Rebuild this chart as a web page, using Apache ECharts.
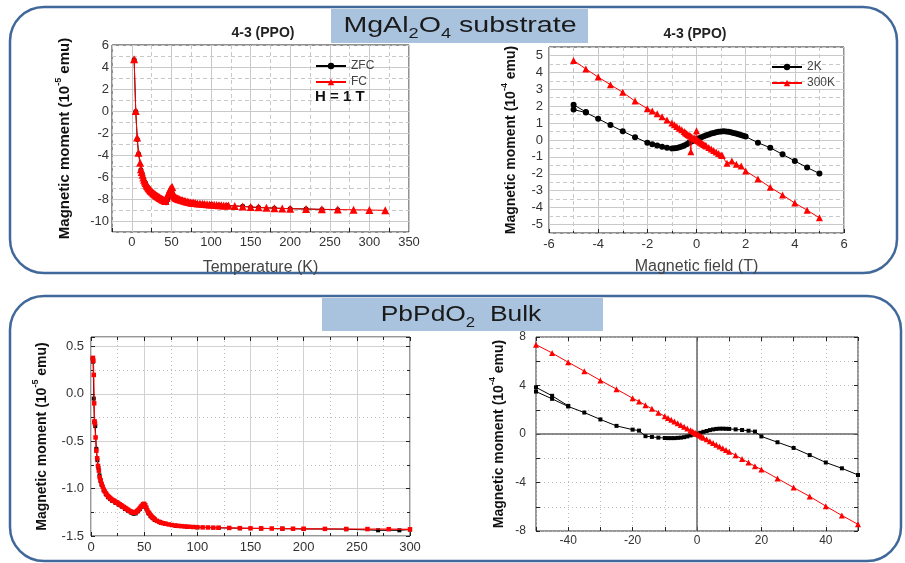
<!DOCTYPE html>
<html><head><meta charset="utf-8">
<script src="https://cdn.jsdelivr.net/npm/echarts@6/dist/echarts.min.js"></script>
<style>html,body{margin:0;padding:0;background:#fff}#c{width:905px;height:563px}</style>
</head><body><div id="c"></div>
<script>
const FONT = '"Liberation Sans", Arial, sans-serif';

// ---- Top-left: MgAl2O4 substrate, M (1e-5 emu) vs T (K), H = 1 T
const tlFC = [[2.9,4.7],[5,0.0],[6.7,-2.4],[8.4,-3.8],[10.5,-4.7],[11.5,-5.3],[12.5,-5.55],[13.5,-5.8],[14.5,-6.05],[15.5,-6.25],[16.5,-6.4],[17.5,-6.55],[18.5,-6.7],[19.5,-6.82],[20.5,-6.93],[21.5,-7.03],[22.5,-7.12],[23.5,-7.2],[24.5,-7.28],[25.5,-7.35],[26.5,-7.42],[27.5,-7.48],[28.5,-7.54],[29.5,-7.6],[30.5,-7.65],[31.5,-7.7],[32.5,-7.75],[33.5,-7.8],[34.5,-7.85],[35.5,-7.9],[36.5,-7.94],[37.5,-7.98],[38.5,-8.02],[39.5,-8.06],[40.5,-8.1],[41.5,-8.14],[42.5,-8.18],[44,-7.9],[45.5,-7.6],[47,-7.35],[48.5,-7.1],[50,-6.95],[51,-6.9],[52,-7.45],[53,-7.68],[54,-7.78],[55,-7.85],[56,-7.9],[57,-7.93],[58,-7.96],[59,-7.99],[60,-8.02],[62,-8.07],[64,-8.12],[66,-8.17],[68,-8.21],[70,-8.25],[72,-8.28],[74,-8.31],[76,-8.33],[78,-8.35],[80,-8.37],[83,-8.4],[86,-8.42],[89,-8.44],[92,-8.46],[95,-8.48],[98,-8.5],[101,-8.51],[104,-8.53],[107,-8.54],[110,-8.56],[113,-8.57],[116,-8.58],[119,-8.59],[122,-8.6],[130,-8.63],[140,-8.68],[150,-8.72],[160,-8.76],[170,-8.8],[180,-8.83],[190,-8.86],[200,-8.88],[220,-8.91],[240,-8.94],[260,-8.96],[280,-8.98],[300,-9.0],[320,-9.03]];
const tlZFC = [[3,4.65],[5,-0.05],[7,-2.6],[8.6,-3.9],[11.5,-5.35],[13,-5.7],[15,-6.15],[17,-6.5],[19,-6.8],[21,-7.0],[24,-7.25],[27,-7.45],[30,-7.62],[33,-7.76],[36,-7.9],[39,-8.05],[42,-8.3],[43.5,-8.35],[45,-8.0],[47,-7.75],[49,-7.55],[51,-7.5],[53,-7.75],[55,-7.86],[58,-7.95],[62,-8.06],[66,-8.16],[70,-8.24],[75,-8.31],[80,-8.36],[90,-8.45],[100,-8.5],[110,-8.55],[120,-8.59],[140,-8.67],[150,-8.74],[160,-8.78],[180,-8.83],[200,-8.88],[220,-8.91],[240,-8.95],[260,-8.97]];
const tlXTicks = [0,50,100,150,200,250,300,350];
const tlYTicks = [-10,-8,-6,-4,-2,0,2,4,6];

// ---- Top-right: MgAl2O4 substrate, M (1e-4 emu) vs H (T)
const tr2K = [[-4.5,1.66],[-5,2.08],[-5,1.8],[-4.5,1.62],[-4,1.26],[-3.5,0.88],[-3,0.52],[-2.5,0.17],[-2,-0.16],[-1.8,-0.25],[-1.6,-0.33],[-1.4,-0.4],[-1.2,-0.46],[-1.0,-0.5],[-0.9,-0.49],[-0.8,-0.47],[-0.7,-0.43],[-0.6,-0.38],[-0.5,-0.32],[-0.4,-0.25],[-0.3,-0.17],[-0.2,-0.09],[-0.1,-0.02],[0,0.04],[0.1,0.1],[0.2,0.16],[0.3,0.22],[0.4,0.28],[0.5,0.33],[0.6,0.38],[0.7,0.42],[0.8,0.46],[0.9,0.49],[1.0,0.51],[1.1,0.52],[1.2,0.51],[1.3,0.49],[1.4,0.46],[1.5,0.42],[1.6,0.38],[1.7,0.34],[1.8,0.3],[1.9,0.25],[2.0,0.2],[2.5,-0.16],[3,-0.46],[3.5,-0.85],[4,-1.24],[4.5,-1.63],[5,-1.98]];
const tr300K = [[-5,4.7],[-4.5,4.2],[-4,3.72],[-3.5,3.27],[-3,2.82],[-2.5,2.3],[-2,1.85],[-1.8,1.72],[-1.6,1.55],[-1.4,1.37],[-1.2,1.18],[-1.0,1.0],[-0.9,0.9],[-0.8,0.8],[-0.7,0.7],[-0.6,0.6],[-0.5,0.5],[-0.45,0.43],[-0.4,0.38],[-0.35,0.33],[-0.3,0.28],[-0.25,0.23],[-0.23,-0.7],[-0.2,0.18],[-0.15,0.14],[-0.1,0.1],[-0.05,0.05],[0,0.55],[0.02,0.0],[0.05,-0.03],[0.1,-0.08],[0.15,-0.13],[0.2,-0.18],[0.25,-0.22],[0.3,-0.27],[0.35,-0.31],[0.4,-0.36],[0.5,-0.45],[0.6,-0.53],[0.7,-0.62],[0.8,-0.71],[0.9,-0.8],[1.0,-0.88],[1.05,-0.92],[1.24,-1.38],[1.44,-1.24],[1.62,-1.44],[1.82,-1.54],[2,-1.83],[2.5,-2.3],[3,-2.8],[3.5,-3.25],[4,-3.73],[4.5,-4.15],[5,-4.6]];
const trXTicks = [-6,-4,-2,0,2,4,6];
const trYTicks = [-5,-4,-3,-2,-1,0,1,2,3,4,5];

// ---- Bottom-left: PbPdO2 bulk, M (1e-5 emu) vs T (K)
const blFC = [[1.8,0.38],[2.2,0.35],[2.6,0.2],[3.0,-0.1],[3.3,-0.29],[3.7,-0.31],[4.3,-0.46],[5,-0.6],[5.8,-0.68],[6.6,-0.76],[7.4,-0.81],[8.2,-0.88],[9,-0.91],[10,-0.95],[11,-0.98],[12,-1.01],[13,-1.03],[14,-1.05],[15,-1.065],[16,-1.08],[17,-1.09],[18,-1.1],[19,-1.11],[20,-1.12],[21,-1.125],[22,-1.13],[23,-1.14],[24,-1.145],[25,-1.15],[26,-1.16],[27,-1.165],[28,-1.175],[29,-1.18],[30,-1.19],[31,-1.195],[32,-1.205],[33,-1.21],[34,-1.22],[35,-1.225],[36,-1.235],[37,-1.24],[38,-1.245],[39,-1.25],[40,-1.255],[41,-1.255],[42,-1.25],[43,-1.24],[44,-1.23],[45,-1.22],[46,-1.205],[47,-1.19],[48,-1.18],[49,-1.165],[50,-1.16],[51,-1.175],[52,-1.2],[53,-1.23],[54,-1.25],[55,-1.265],[56,-1.28],[57,-1.295],[58,-1.305],[59,-1.315],[60,-1.325],[62,-1.34],[64,-1.35],[66,-1.36],[68,-1.365],[70,-1.37],[73,-1.378],[76,-1.384],[79,-1.389],[82,-1.393],[85,-1.396],[88,-1.399],[92,-1.402],[96,-1.405],[100,-1.407],[105,-1.409],[110,-1.41],[115,-1.412],[120,-1.413],[130,-1.415],[140,-1.417],[150,-1.419],[160,-1.42],[170,-1.421],[180,-1.422],[190,-1.423],[200,-1.424],[220,-1.425],[240,-1.426],[260,-1.427],[280,-1.428],[300,-1.43]];
const blZFC = [[1.6,0.37],[2.0,0.34],[2.6,-0.05],[3.2,-0.3],[4,-0.34],[5,-0.58],[6,-0.7],[7,-0.78],[8,-0.86],[9,-0.92],[10,-0.96],[12,-1.02],[14,-1.06],[16,-1.09],[18,-1.11],[20,-1.13],[23,-1.15],[26,-1.17],[29,-1.19],[32,-1.215],[35,-1.235],[38,-1.255],[40,-1.265],[42,-1.262],[44,-1.24],[46,-1.215],[48,-1.19],[50,-1.17],[52,-1.21],[54,-1.26],[56,-1.29],[58,-1.31],[60,-1.33],[65,-1.355],[70,-1.372],[80,-1.392],[90,-1.402],[100,-1.408],[120,-1.414],[140,-1.418],[160,-1.421],[180,-1.423],[200,-1.425],[240,-1.428],[270,-1.44],[290,-1.44],[300,-1.432]];

// ---- Bottom-right: PbPdO2 bulk, M (1e-4 emu) vs H
const brLow = [[-40,2.32],[-45,3.15],[-50,3.85],[-50,3.5],[-45,2.9],[-40,2.27],[-35,1.77],[-30,1.2],[-25,0.67],[-20,0.36],[-18,0.28],[-16,-0.18],[-14,-0.24],[-12,-0.3],[-10,-0.33],[-9,-0.34],[-8,-0.34],[-7,-0.34],[-6,-0.32],[-5,-0.3],[-4,-0.26],[-3,-0.2],[-2,-0.12],[-1,-0.05],[0,0.02],[1,0.1],[2,0.18],[3,0.25],[4,0.32],[5,0.38],[6,0.42],[7,0.44],[8,0.44],[9,0.43],[10,0.42],[12,0.38],[14,0.33],[16,0.27],[18,0.2],[20,-0.2],[25,-0.68],[30,-1.15],[35,-1.74],[40,-2.35],[45,-2.83],[50,-3.38]];
const brHigh = [[-50,7.37],[-45,6.68],[-40,5.92],[-35,5.18],[-30,4.42],[-25,3.7],[-20,2.95],[-18,2.68],[-16,2.38],[-14,2.08],[-12,1.76],[-10,1.46],[-9,1.32],[-8,1.18],[-7,1.03],[-6,0.88],[-5,0.74],[-4,0.6],[-3,0.45],[-2,0.3],[-1.5,0.22],[-1,0.15],[-0.5,0.08],[0,0.0],[0.5,-0.07],[1,-0.15],[1.5,-0.22],[2,-0.3],[3,-0.44],[4,-0.59],[5,-0.74],[6,-0.88],[7,-1.03],[8,-1.18],[9,-1.32],[10,-1.46],[12,-1.76],[14,-2.06],[16,-2.36],[18,-2.66],[20,-2.93],[25,-3.67],[30,-4.42],[35,-5.15],[40,-5.95],[45,-6.72],[50,-7.45]];

const chart = echarts.init(document.getElementById('c'), null, {renderer: 'canvas'});

const labelStyle = (size, margin, fmt) => ({fontSize: size, color: '#333', fontFamily: FONT, margin: margin, formatter: fmt});
const yName = (exp) => '{a|Magnetic moment (10}{s|' + exp + '}{a| emu)}';
const yNameStyle = (size) => ({fontFamily: FONT, color: '#111', rich: {
  a: {fontSize: size, fontWeight: 'bold', fontFamily: FONT, color: '#111', lineHeight: 22},
  s: {fontSize: 9, fontWeight: 'bold', fontFamily: FONT, color: '#111', lineHeight: 10, verticalAlign: 'top'}
}});
const noLine = {show: false, onZero: false};
const gridSolid = {color: '#c9c9c9', type: 'solid', width: 1};
const gridDash = {color: '#c9c9c9', type: [4, 3], width: 1};
const gridDot = {color: '#bdbdbd', type: [1, 3], width: 1};
const tickIn = {show: true, inside: true, length: 4, lineStyle: {color: '#222'}};
const has = (arr) => (v) => arr.some(t => Math.abs(t - v) < 1e-9) ? String(v) : '';

const option = {
  animation: false,
  backgroundColor: '#fff',
  grid: [
    {left: 112, top: 45, width: 297, height: 187, show: true, borderColor: '#222', borderWidth: 1, backgroundColor: 'transparent'},
    {left: 549, top: 47, width: 295, height: 186, show: true, borderColor: '#222', borderWidth: 1, backgroundColor: 'transparent'},
    {left: 91, top: 337, width: 319, height: 199, show: true, borderColor: '#333', borderWidth: 1, backgroundColor: 'transparent'},
    {left: 536, top: 337, width: 322, height: 194, show: true, borderColor: '#333', borderWidth: 1, backgroundColor: 'transparent'}
  ],
  legend: [
    {data: ['ZFC', 'FC'], orient: 'vertical', left: 310, top: 55, itemWidth: 30, itemHeight: 8, itemGap: 4,
     textStyle: {fontSize: 12, color: '#444', fontFamily: FONT}},
    {data: ['2K', '300K'], orient: 'vertical', left: 766, top: 56, itemWidth: 30, itemHeight: 8, itemGap: 4,
     textStyle: {fontSize: 12, color: '#444', fontFamily: FONT}}
  ],
  xAxis: [
    {gridIndex: 0, type: 'value', min: -25, max: 350, interval: 25,
     axisLine: noLine, axisTick: tickIn,
     axisLabel: labelStyle(13, 4, has(tlXTicks)),
     splitLine: {show: true, lineStyle: gridDash},
     name: 'Temperature (K)', nameLocation: 'middle', nameGap: 28,
     nameTextStyle: {fontSize: 16, color: '#444', fontFamily: FONT}},
    {gridIndex: 1, type: 'value', min: -6, max: 6, interval: 2,
     axisLine: noLine, axisTick: tickIn, minorTick: {show: true, splitNumber: 2, length: 2, lineStyle: {color: '#222'}},
     axisLabel: labelStyle(13, 5, has(trXTicks)),
     splitLine: {show: true, lineStyle: gridSolid},
     minorSplitLine: {show: true, lineStyle: gridDash},
     name: 'Magnetic field (T)', nameLocation: 'middle', nameGap: 26,
     nameTextStyle: {fontSize: 16, color: '#444', fontFamily: FONT}},
    {gridIndex: 2, type: 'value', min: 0, max: 300, interval: 50,
     axisLine: noLine, axisTick: tickIn, minorTick: {show: true, splitNumber: 2, length: 3, lineStyle: {color: '#222'}},
     axisLabel: labelStyle(13, 5),
     splitLine: {show: true, lineStyle: {color: '#d2d2d2', width: 1}},
     minorSplitLine: {show: true, lineStyle: gridDot}},
    {gridIndex: 3, type: 'value', min: -50, max: 50, interval: 10,
     axisLine: noLine, axisTick: tickIn,
     axisLabel: labelStyle(12, 4, has([-40, -20, 0, 20, 40])),
     splitLine: {show: true, lineStyle: gridDot}},
    {gridIndex: 2, type: 'value', position: 'top', min: 0, max: 300, interval: 50,
     axisLine: noLine, axisTick: tickIn, minorTick: {show: true, splitNumber: 2, length: 3, lineStyle: {color: '#222'}},
     axisLabel: {show: false}, splitLine: {show: false}},
    {gridIndex: 3, type: 'value', position: 'top', min: -50, max: 50, interval: 10,
     axisLine: noLine, axisTick: tickIn, axisLabel: {show: false}, splitLine: {show: false}}
  ],
  yAxis: [
    {gridIndex: 0, type: 'value', min: -11, max: 6, interval: 1,
     axisLine: noLine, axisTick: {show: false},
     axisLabel: labelStyle(13, 3, has(tlYTicks)),
     splitLine: {show: true, lineStyle: gridDash},
     name: yName('-5'), nameLocation: 'middle', nameRotate: 90, nameGap: 36, nameTextStyle: yNameStyle(15)},
    {gridIndex: 1, type: 'value', min: -5.5, max: 5.5, interval: 0.5,
     axisLine: noLine, axisTick: {show: false},
     axisLabel: labelStyle(13, 6, has(trYTicks)),
     splitLine: {show: true, lineStyle: gridDash},
     name: yName('-4'), nameLocation: 'middle', nameRotate: 90, nameGap: 27, nameTextStyle: yNameStyle(14)},
    {gridIndex: 2, type: 'value', min: -1.5, max: 0.6, interval: 0.5,
     axisLine: noLine, axisTick: tickIn, minorTick: {show: true, splitNumber: 2, length: 3, lineStyle: {color: '#222'}},
     axisLabel: labelStyle(13, 7, (v) => Math.abs(v * 2 - Math.round(v * 2)) < 1e-9 ? v.toFixed(1) : ''),
     splitLine: {show: true, lineStyle: {color: '#d2d2d2', width: 1}},
     minorSplitLine: {show: true, lineStyle: gridDot},
     name: yName('-5'), nameLocation: 'middle', nameRotate: 90, nameGap: 38, nameTextStyle: yNameStyle(14)},
    {gridIndex: 3, type: 'value', min: -8, max: 8, interval: 2,
     axisLine: noLine, axisTick: tickIn,
     axisLabel: labelStyle(12, 10, has([-8, -4, 0, 4, 8])),
     splitLine: {show: true, lineStyle: gridDot},
     name: yName('-4'), nameLocation: 'middle', nameRotate: 90, nameGap: 26, nameTextStyle: yNameStyle(14)},
    {gridIndex: 2, type: 'value', position: 'right', min: -1.5, max: 0.6, interval: 0.5,
     axisLine: noLine, axisTick: tickIn, minorTick: {show: true, splitNumber: 2, length: 3, lineStyle: {color: '#222'}},
     axisLabel: {show: false}, splitLine: {show: false}},
    {gridIndex: 3, type: 'value', position: 'right', min: -8, max: 8, interval: 2,
     axisLine: noLine, axisTick: tickIn, axisLabel: {show: false}, splitLine: {show: false}}
  ],
  series: [
    {type: 'line', name: 'gridTL', xAxisIndex: 0, yAxisIndex: 0, data: [], silent: true,
     markLine: {silent: true, z: 1, symbol: 'none', label: {show: false}, lineStyle: gridSolid,
       data: tlXTicks.map(v => ({xAxis: v})).concat(tlYTicks.filter(v => v < 6).map(v => ({yAxis: v})))}},
    {type: 'line', name: 'ZFC', xAxisIndex: 0, yAxisIndex: 0, data: tlZFC, z: 3,
     symbol: 'circle', symbolSize: 5, lineStyle: {color: '#000', width: 1}, itemStyle: {color: '#000'}},
    {type: 'line', name: 'FC', xAxisIndex: 0, yAxisIndex: 0, data: tlFC, z: 4,
     symbol: 'triangle', symbolSize: 8, lineStyle: {color: '#ff0000', width: 1}, itemStyle: {color: '#ff0000'}},

    {type: 'line', name: 'gridTR', xAxisIndex: 1, yAxisIndex: 1, data: [], silent: true,
     markLine: {silent: true, z: 1, symbol: 'none', label: {show: false}, lineStyle: gridSolid,
       data: trYTicks.map(v => ({yAxis: v}))}},
    {type: 'line', name: '2K', xAxisIndex: 1, yAxisIndex: 1, data: tr2K, z: 3,
     symbol: 'circle', symbolSize: 6, lineStyle: {color: '#000', width: 1}, itemStyle: {color: '#000'}},
    {type: 'line', name: '300K', xAxisIndex: 1, yAxisIndex: 1, data: tr300K, z: 4,
     symbol: 'triangle', symbolSize: 7, lineStyle: {color: '#ff0000', width: 1}, itemStyle: {color: '#ff0000'}},

    {type: 'line', name: 'bZFC', xAxisIndex: 2, yAxisIndex: 2, data: blZFC, z: 3,
     symbol: 'rect', symbolSize: 4, lineStyle: {color: '#000', width: 1}, itemStyle: {color: '#000'}},
    {type: 'line', name: 'bFC', xAxisIndex: 2, yAxisIndex: 2, data: blFC, z: 4,
     symbol: 'rect', symbolSize: 4.5, lineStyle: {color: '#ff0000', width: 1.2}, itemStyle: {color: '#ff0000'}},

    {type: 'line', name: 'gridBR', xAxisIndex: 3, yAxisIndex: 3, data: [], silent: true,
     markLine: {silent: true, z: 1, symbol: 'none', label: {show: false}, lineStyle: {color: '#666', width: 1.5, type: 'solid'},
       data: [{xAxis: 0}, {yAxis: 0}]}},
    {type: 'line', name: 'bLow', xAxisIndex: 3, yAxisIndex: 3, data: brLow, z: 3,
     symbol: 'rect', symbolSize: 4, lineStyle: {color: '#000', width: 1}, itemStyle: {color: '#000'}},
    {type: 'line', name: 'bHigh', xAxisIndex: 3, yAxisIndex: 3, data: brHigh, z: 4,
     symbol: 'triangle', symbolSize: 6, lineStyle: {color: '#ff0000', width: 1}, itemStyle: {color: '#ff0000'}}
  ],
  graphic: [
    {type: 'rect', z: 0, shape: {x: 10, y: 7, width: 887, height: 266, r: 34}, style: {fill: 'none', stroke: '#40689a', lineWidth: 2.5}},
    {type: 'rect', z: 0, shape: {x: 10, y: 296, width: 891, height: 265, r: 34}, style: {fill: 'none', stroke: '#40689a', lineWidth: 2.5}},
    {type: 'rect', z: 1, shape: {x: 331, y: 9, width: 257, height: 34}, style: {fill: '#a9c3df'}},
    {type: 'rect', z: 1, shape: {x: 322, y: 298, width: 281, height: 33}, style: {fill: '#a9c3df'}},
    {type: 'text', z: 2, x: 460, y: 26, scaleX: 1.3,
     style: {text: '{a|MgAl}{b|2}{a|O}{b|4}{a| substrate}', align: 'center', verticalAlign: 'middle',
       rich: {a: {fontSize: 22, fontFamily: FONT, fill: '#1a1a1a', lineHeight: 30},
              b: {fontSize: 14, fontFamily: FONT, fill: '#1a1a1a', lineHeight: 14, verticalAlign: 'bottom'}}}},
    {type: 'text', z: 2, x: 461, y: 315, scaleX: 1.2,
     style: {text: '{a|PbPdO}{b|2}{a|  Bulk}', align: 'center', verticalAlign: 'middle',
       rich: {a: {fontSize: 22, fontFamily: FONT, fill: '#1a1a1a', lineHeight: 30},
              b: {fontSize: 14, fontFamily: FONT, fill: '#1a1a1a', lineHeight: 14, verticalAlign: 'bottom'}}}},
    {type: 'text', z: 2, x: 263, y: 33, style: {text: '4-3 (PPO)', align: 'center', verticalAlign: 'middle',
       font: 'bold 14px ' + FONT, fill: '#222'}},
    {type: 'text', z: 2, x: 695, y: 34, style: {text: '4-3 (PPO)', align: 'center', verticalAlign: 'middle',
       font: 'bold 14px ' + FONT, fill: '#222'}},
    {type: 'text', z: 2, x: 315, y: 97, style: {text: 'H = 1 T', align: 'left', verticalAlign: 'middle',
       font: 'bold 15px ' + FONT, fill: '#111'}}
  ]
};
chart.setOption(option);
</script>
</body></html>
